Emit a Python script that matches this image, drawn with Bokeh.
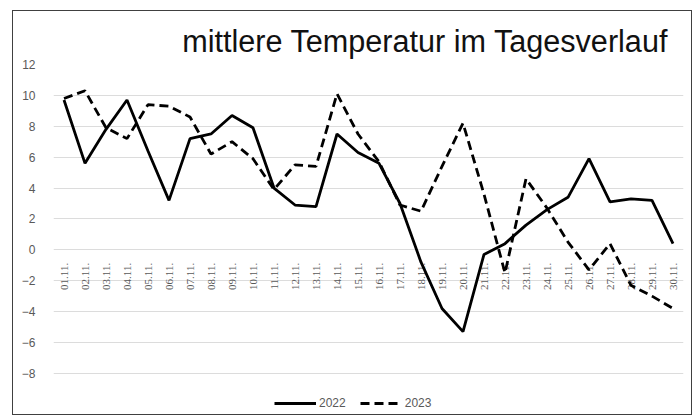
import math
from bokeh.plotting import figure
from bokeh.models import FactorRange, Range1d, FixedTicker, Legend, LegendItem, ColumnDataSource
from bokeh.embed import file_html
from bokeh.resources import INLINE

days = ["01.11.", "02.11.", "03.11.", "04.11.", "05.11.", "06.11.", "07.11.", "08.11.",
        "09.11.", "10.11.", "11.11.", "12.11.", "13.11.", "14.11.", "15.11.", "16.11.",
        "17.11.", "18.11.", "19.11.", "20.11.", "21.11.", "22.11.", "23.11.", "24.11.",
        "25.11.", "26.11.", "27.11.", "28.11.", "29.11.", "30.11."]
t2022 = [9.7, 5.6, 7.8, 9.7, 6.4, 3.2, 7.2, 7.5, 8.7, 7.9, 4.0, 2.9, 2.8, 7.5, 6.3,
         5.6, 3.0, -0.8, -3.8, -5.3, -0.3, 0.4, 1.6, 2.6, 3.4, 5.9, 3.1, 3.3, 3.2, 0.4]
t2023 = [9.8, 10.3, 7.9, 7.2, 9.4, 9.3, 8.6, 6.2, 7.0, 5.9, 3.9, 5.5, 5.4, 10.1, 7.5,
         5.7, 2.9, 2.5, 5.4, 8.2, 3.6, -1.5, 4.6, 2.7, 0.5, -1.3, 0.4, -2.3, -3.0, -3.8]
y_ticks = [-8, -6, -4, -2, 0, 2, 4, 6, 8, 10, 12]
title_text = "mittlere Temperatur im Tagesverlauf"
series_names = ["2022", "2023"]

src = ColumnDataSource(data=dict(day=days, t2022=t2022, t2023=t2023,
                                 zero=[0] * len(days)))

p = figure(width=680, height=405, x_range=FactorRange(*days), y_range=Range1d(-10.6, 12),
           output_backend="svg", toolbar_location=None,
           min_border_left=40, min_border_right=10, min_border_top=53, min_border_bottom=3)
p.styles = {"border": "1.5px solid #404040", "margin-left": "12px", "margin-top": "10px"}
p.outline_line_color = None
p.background_fill_color = "white"
p.border_fill_color = "white"

p.title.text = title_text
p.title.align = "right"
p.title.offset = 15
p.title.standoff = 13
p.title.text_font = "Liberation Sans"
p.title.text_font_size = "30.6px"
p.title.text_font_style = "normal"
p.title.text_color = "#111111"

p.yaxis.ticker = FixedTicker(ticks=y_ticks)
p.ygrid.ticker = FixedTicker(ticks=y_ticks)
p.ygrid.grid_line_color = "#dcdcdc"
p.xgrid.visible = False
p.yaxis.axis_line_color = None
p.yaxis.major_tick_line_color = None
p.yaxis.minor_tick_line_color = None
p.yaxis.major_label_text_color = "#595959"
p.yaxis.major_label_text_font = "Liberation Sans"
p.yaxis.major_label_text_font_size = "12px"
p.yaxis.major_label_standoff = 12
p.xaxis.visible = False

# category labels next to the zero line (Excel "next to axis")
p.text(x="day", y="zero", text="day", source=src, angle=math.pi / 2,
       text_align="right", text_baseline="middle", y_offset=13,
       text_font="Liberation Sans", text_font_size="11px", text_color="#595959")

r1 = p.line(x="day", y="t2022", source=src, line_color="black", line_width=2.8)
r2 = p.line(x="day", y="t2023", source=src, line_color="black", line_width=2.8,
            line_dash="9 5")

legend = Legend(items=[LegendItem(label=series_names[0], renderers=[r1]),
                       LegendItem(label=series_names[1], renderers=[r2])],
                orientation="horizontal", location=(221, 0),
                label_text_font="Liberation Sans", label_text_font_size="12px",
                label_text_color="#595959", glyph_width=42, spacing=14,
                border_line_color=None, background_fill_alpha=0,
                padding=2, margin=0, label_standoff=3)
p.add_layout(legend)

open("out.html", "w").write(file_html(p, INLINE))
